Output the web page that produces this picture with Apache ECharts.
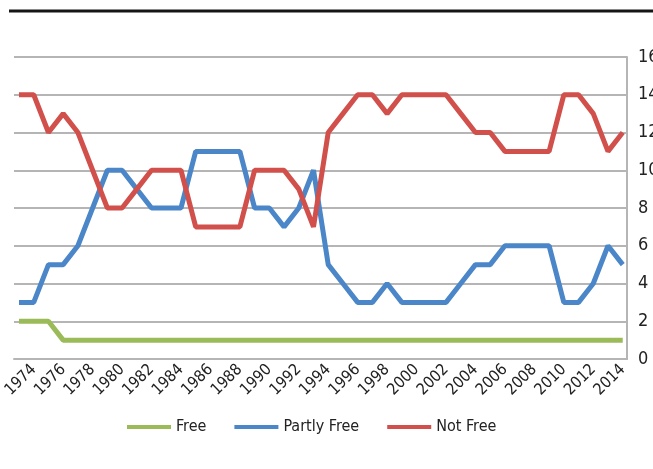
<!DOCTYPE html>
<html>
<head>
<meta charset="utf-8">
<script src="https://cdn.jsdelivr.net/npm/echarts@6/dist/echarts.min.js"></script>
<style>
html,body{margin:0;padding:0;background:#fff;}
#chart{width:653px;height:469px;}
</style>
</head>
<body>
<div id="chart"></div>
<script>
var years = [];
for (var y = 1973; y <= 2014; y++) years.push(y);
var tickYears = [1974,1976,1978,1980,1982,1984,1986,1988,1990,1992,1994,1996,1998,2000,2002,2004,2006,2008,2010,2012,2014];
var freeVals = [2,2,2,1,1,1,1,1,1,1,1,1,1,1,1,1,1,1,1,1,1,1,1,1,1,1,1,1,1,1,1,1,1,1,1,1,1,1,1,1,1,1];
var partlyFreeVals = [3,3,5,5,6,8,10,10,9,8,8,8,11,11,11,11,8,8,7,8,10,5,4,3,3,4,3,3,3,3,4,5,5,6,6,6,6,3,3,4,6,5];
var notFreeVals = [14,14,12,13,12,10,8,8,9,10,10,10,7,7,7,7,10,10,10,9,7,12,13,14,14,13,14,14,14,14,13,12,12,11,11,11,11,14,14,13,11,12];
var seriesNames = ['Free','Partly Free','Not Free'];

function pairs(vals){ return years.map(function(yr,i){ return [yr, vals[i]]; }); }

var FONT = "'Liberation Sans Narrow','DejaVu Sans Condensed','Roboto Condensed',Roboto,sans-serif";
var chart = echarts.init(document.getElementById('chart'), null, {renderer:'canvas'});
chart.setOption({
  animation:false,
  backgroundColor:'#ffffff',
  graphic:[{type:'line', shape:{x1:9,y1:11,x2:653,y2:11}, style:{stroke:'#151515', lineWidth:3}}],
  grid:{left:14, right:26, top:57, bottom:110, containLabel:false, outerBoundsMode:'none'},
  legend:{
    data:seriesNames, bottom:29, left:122, icon:'rect', itemWidth:44, itemHeight:4, itemGap:28,
    textStyle:{fontFamily:FONT, fontSize:16, color:'#222'}
  },
  xAxis:{
    type:'value', min:1972.66, max:2014.29,
    axisLine:{show:true, lineStyle:{color:'#B5B5B5', width:2}},
    axisTick:{show:false},
    splitLine:{show:false},
    axisLabel:{customValues:tickYears, rotate:45, margin:8, fontFamily:FONT, fontSize:16, color:'#222',
      formatter:function(v){return String(v);}}
  },
  yAxis:{
    type:'value', position:'right', min:0, max:16, interval:2,
    axisLine:{show:true, lineStyle:{color:'#B5B5B5', width:2}},
    axisTick:{show:false},
    splitLine:{show:true, lineStyle:{color:'#B5B5B5', width:2}},
    axisLabel:{margin:11, fontFamily:FONT, fontSize:18, color:'#222'}
  },
  series:[
    {name:'Free', type:'line', data:pairs(freeVals), showSymbol:false, symbol:'none', lineStyle:{width:5, color:'#9BBB59'}, itemStyle:{color:'#9BBB59'}},
    {name:'Partly Free', type:'line', data:pairs(partlyFreeVals), showSymbol:false, symbol:'none', lineStyle:{width:5, color:'#4A86C8'}, itemStyle:{color:'#4A86C8'}},
    {name:'Not Free', type:'line', data:pairs(notFreeVals), showSymbol:false, symbol:'none', lineStyle:{width:5, color:'#D1504B'}, itemStyle:{color:'#D1504B'}}
  ]
});
</script>
</body>
</html>
